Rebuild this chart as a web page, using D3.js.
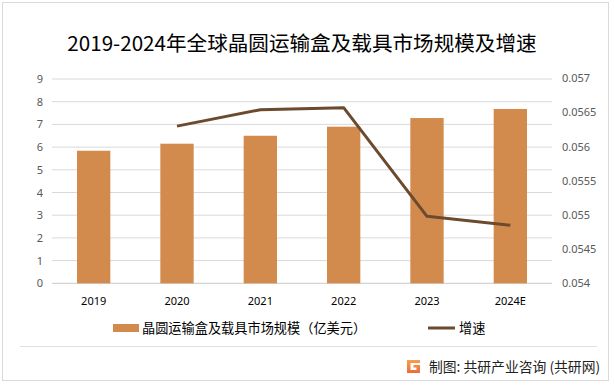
<!DOCTYPE html>
<html><head><meta charset="utf-8">
<script src="https://cdn.jsdelivr.net/npm/d3@7"></script>
<style>body{margin:0;background:#fff}svg{display:block;font-family:"Noto Sans CJK SC","Noto Sans",sans-serif}</style>
</head><body>
<svg id="c" width="614" height="387"></svg>
<script>
const categories = ["2019","2020","2021","2022","2023","2024E"];
const marketSize = [5.84, 6.15, 6.50, 6.90, 7.28, 7.68];
const growth = [null, 0.05630, 0.05654, 0.05657, 0.05498, 0.05485];
const leftTicks = [0,1,2,3,4,5,6,7,8,9];
const rightTicks = [0.054,0.0545,0.055,0.0555,0.056,0.0565,0.057];
const title = "2019-2024年全球晶圆运输盒及载具市场规模及增速";
const seriesNames = ["晶圆运输盒及载具市场规模（亿美元）","增速"];
const source = "制图: 共研产业咨询 (共研网)";

const svg = d3.select("#c");
const x = d3.scaleBand().domain(categories).range([52,552]).paddingInner(0.6).paddingOuter(0.3);
const y = d3.scaleLinear().domain([0,9]).range([283.3,79]);
const y2 = d3.scaleLinear().domain([0.054,0.057]).range([283.3,78.3]);

svg.append("rect").attr("x",2.5).attr("y",2.5).attr("width",606).attr("height",378).attr("fill","none").attr("stroke","#d9d9d9").attr("stroke-width",1);

svg.append("text").attr("x",302).attr("y",51).attr("text-anchor","middle").attr("font-size",20.6).attr("fill","#000").text(title);

svg.append("g").selectAll("line").data(leftTicks).join("line")
  .attr("x1",52).attr("x2",552).attr("y1",d=>y(d)).attr("y2",d=>y(d))
  .attr("stroke",d=>d===0?"#c8c8c8":"#d9d9d9").attr("stroke-width",1);

const la = d3.axisLeft(y).tickValues(leftTicks).tickSize(0).tickPadding(0).tickFormat(d3.format("d"));
const gL = svg.append("g").attr("transform","translate(43,0)").call(la);
gL.select(".domain").remove();
gL.selectAll("text").attr("font-size",11).attr("fill","#595959").attr("font-family","'Noto Sans','DejaVu Sans',sans-serif");

const ra = d3.axisRight(y2).tickValues(rightTicks).tickSize(0).tickPadding(0).tickFormat(d=>String(+d.toFixed(4)));
const gR = svg.append("g").attr("transform","translate(562,0)").call(ra);
gR.select(".domain").remove();
gR.selectAll("text").attr("font-size",11).attr("fill","#595959").attr("font-family","'Noto Sans','DejaVu Sans',sans-serif");

svg.append("g").selectAll("rect").data(categories).join("rect")
  .attr("x",d=>x(d)).attr("width",x.bandwidth())
  .attr("y",(d,i)=>y(marketSize[i])).attr("height",(d,i)=>y(0)-y(marketSize[i]))
  .attr("fill","#d38b4d");

const xa = d3.axisBottom(x).tickSize(0).tickPadding(0);
const gX = svg.append("g").attr("transform","translate(0,297)").call(xa);
gX.select(".domain").remove();
gX.selectAll("text").attr("font-size",11).attr("fill","#000").attr("font-family","'Noto Sans','DejaVu Sans',sans-serif");

const pts = categories.map((c,i)=>({c,v:growth[i]})).filter(d=>d.v!=null);
const line = d3.line().x(d=>x(d.c)+x.bandwidth()/2).y(d=>y2(d.v));
svg.append("path").datum(pts).attr("d",line).attr("fill","none").attr("stroke","#6b4a2e").attr("stroke-width",3).attr("stroke-linejoin","round");

const lg = svg.append("g");
lg.append("rect").attr("x",113).attr("y",324).attr("width",26).attr("height",8).attr("fill","#d38b4d");
lg.append("text").attr("x",142).attr("y",332.5).attr("font-size",13.2).attr("fill","#000").text(seriesNames[0]);
lg.append("line").attr("x1",428).attr("x2",455).attr("y1",328).attr("y2",328).attr("stroke","#6b4a2e").attr("stroke-width",3);
lg.append("text").attr("x",459).attr("y",332.5).attr("font-size",13.2).attr("fill","#000").text(seriesNames[1]);

svg.append("line").attr("x1",20).attr("x2",597).attr("y1",346.5).attr("y2",346.5).attr("stroke","#e0e0e0");

const logo = svg.append("g").attr("transform","translate(407,360)");
const grad = svg.append("defs").append("linearGradient").attr("id","lg1").attr("x1","0").attr("y1","0").attr("x2","0").attr("y2","1");
grad.append("stop").attr("offset","0").attr("stop-color","#f6a04d");
grad.append("stop").attr("offset","1").attr("stop-color","#ee6a3a");
logo.append("path").attr("d","M0,0 H13 V3 H3.5 V10 H9.5 V7.5 H6.5 V5 H13 V13 H0 Z").attr("fill","url(#lg1)");

svg.append("text").attr("x",429).attr("y",371.5).attr("font-size",13.8).attr("fill","#222").text(source);
</script>
</body></html>
